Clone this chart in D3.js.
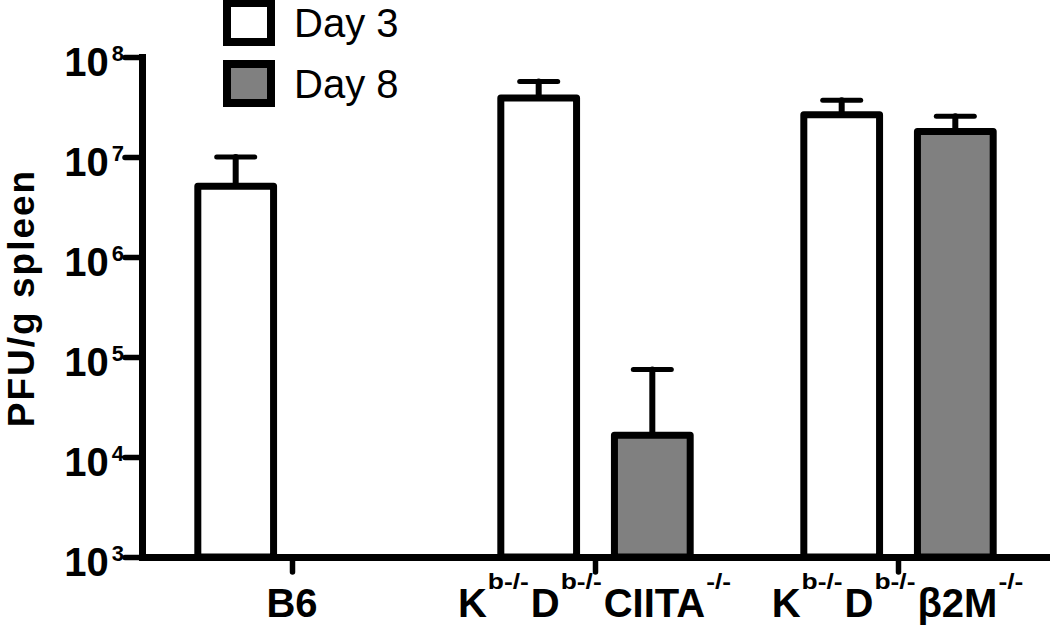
<!doctype html>
<html lang="en">
<head>
<meta charset="utf-8">
<title>PFU/g spleen</title>
<style>
  body { margin: 0; background: #fff; }
  svg { display: block; }
  text { font-family: "Liberation Sans", Arial, Helvetica, sans-serif; fill: #000; }
  .bold { font-weight: bold; }
</style>
</head>
<body>
<svg id="chart" width="1050" height="628"></svg>
<script src="https://d3js.org/d3.v7.min.js"></script>
<script>
// groups on the x axis: base text plus superscript pieces
const groups = ["B6", "CIITA", "B2M"];
const groupLabels = [
  [["B6", false]],
  [["K", false], ["b-/-", true], ["D", false], ["b-/-", true], ["CIITA", false], ["-/-", true]],
  [["K", false], ["b-/-", true], ["D", false], ["b-/-", true], ["\u03b22M", false], ["-/-", true]]
];
const series = ["Day 3", "Day 8"];
const seriesFill = ["#ffffff", "#808080"];
// mean PFU/g per group, null = no bar
const day3 = [5.1e6, 3.9e7, 2.65e7];
const day8 = [null, 1.65e4, 1.8e7];
// top of the error bar (mean + SEM)
const day3Err = [1.0e7, 5.7e7, 3.7e7];
const day8Err = [null, 7.5e4, 2.55e7];
const yTicks = [3, 4, 5, 6, 7, 8];

const svg = d3.select("#chart");
const x0 = d3.scaleBand().domain(groups).range([141, 1050]);
const x1 = d3.scaleBand().domain(series).range([0, x0.bandwidth()])
  .paddingInner(1 / 3).paddingOuter(0.5);
const y = d3.scaleLog().domain([1e3, 1e8]).range([557, 57]);

const rows = [];
groups.forEach((g, i) => {
  rows.push({ g, s: series[0], v: day3[i], e: day3Err[i], fill: seriesFill[0] });
  rows.push({ g, s: series[1], v: day8[i], e: day8Err[i], fill: seriesFill[1] });
});
const bars = rows.filter(d => d.v != null);

// error bars (drawn first, the bar outline covers the stem foot)
const err = svg.append("g").attr("stroke", "#000").attr("stroke-linecap", "round");
bars.forEach(d => {
  const cx = x0(d.g) + x1(d.s) + x1.bandwidth() / 2;
  err.append("line").attr("x1", cx).attr("x2", cx)
    .attr("y1", y(d.v)).attr("y2", y(d.e)).attr("stroke-width", 6);
  err.append("line").attr("x1", cx - 19).attr("x2", cx + 19)
    .attr("y1", y(d.e)).attr("y2", y(d.e)).attr("stroke-width", 5);
});

svg.append("g").selectAll("rect").data(bars).join("rect")
  .attr("x", d => x0(d.g) + x1(d.s))
  .attr("width", x1.bandwidth())
  .attr("y", d => y(d.v))
  .attr("height", d => y(1e3) - y(d.v))
  .attr("fill", d => d.fill)
  .attr("stroke", "#000")
  .attr("stroke-width", 7)
  .attr("stroke-linejoin", "round");

// y axis
const yAxis = svg.append("g").attr("transform", "translate(142,0)")
  .call(d3.axisLeft(y).tickValues(yTicks.map(p => Math.pow(10, p)))
    .tickSize(17).tickSizeOuter(0).tickFormat(""));
yAxis.select(".domain").attr("stroke-width", 7).attr("stroke-linecap", "square");
yAxis.selectAll(".tick line").attr("stroke-width", 5.5).attr("stroke-linecap", "round");

const yLab = svg.append("g");
yTicks.forEach(p => {
  const t = yLab.append("text").attr("class", "bold")
    .attr("x", 124).attr("y", y(Math.pow(10, p)) + 19)
    .attr("text-anchor", "end").attr("font-size", 40);
  t.append("tspan").text("10");
  t.append("tspan").attr("font-size", 22).attr("dx", 3).attr("dy", -15).text(p);
});

// x axis
const xAxis = svg.append("g").attr("transform", "translate(0,557)")
  .call(d3.axisBottom(x0).tickSize(15).tickSizeOuter(0).tickFormat(""));
xAxis.select(".domain").attr("stroke-width", 7);
xAxis.selectAll(".tick line").attr("stroke-width", 5.5).attr("stroke-linecap", "round");

// x labels: pieces laid out one after another, superscripts a bit wide
const SUP_SCALE = 1.2;
groups.forEach((g, i) => {
  const lab = svg.append("g");
  let cx = 0;
  groupLabels[i].forEach(([s, sup]) => {
    const piece = lab.append("g").attr("transform", sup
      ? `translate(${cx},-28) scale(${SUP_SCALE},1)`
      : `translate(${cx},0)`);
    const t = piece.append("text").attr("class", "bold")
      .attr("font-size", sup ? 22 : 40).text(s);
    const w = t.node().getComputedTextLength() * (sup ? SUP_SCALE : 1);
    cx += w + (sup ? 2 : 1);
  });
  const mid = x0(g) + x0.bandwidth() / 2;
  lab.attr("transform", `translate(${mid - cx / 2},617)`);
});

// y title
svg.append("text").attr("class", "bold")
  .attr("transform", "translate(34,298) rotate(-90)")
  .attr("text-anchor", "middle").attr("font-size", 37)
  .attr("letter-spacing", 2)
  .text("PFU/g spleen");

// legend
const leg = svg.append("g");
series.forEach((s, i) => {
  const yy = 3 + i * 61;
  leg.append("rect").attr("x", 227).attr("y", yy).attr("width", 44).attr("height", 39)
    .attr("fill", seriesFill[i]).attr("stroke", "#000").attr("stroke-width", 8);
  leg.append("text").attr("x", 294).attr("y", yy + 34)
    .attr("font-size", 40).text(s);
});
</script>
</body>
</html>
